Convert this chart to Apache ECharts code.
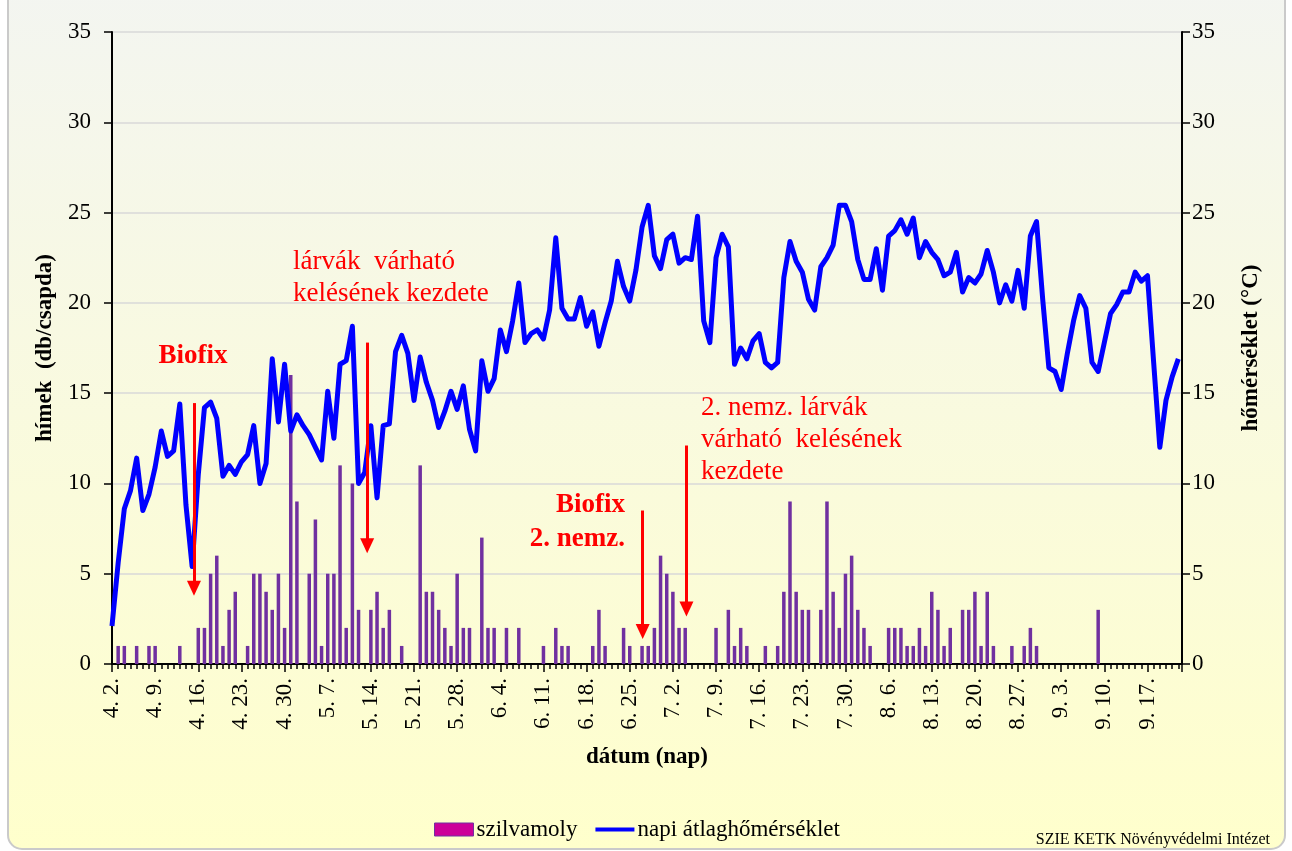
<!DOCTYPE html>
<html>
<head>
<meta charset="utf-8">
<title>szilvamoly</title>
<script src="https://cdn.jsdelivr.net/npm/echarts/dist/echarts.min.js"></script>
<style>
  html, body { margin: 0; padding: 0; background: #fff; }
  #chart { width: 1292px; height: 851px; }
</style>
</head>
<body>
<div id="chart"></div>
<script>
// weekly tick labels, day 0 = 4.2.
let tickLabels = ['4. 2.', '4. 9.', '4. 16.', '4. 23.', '4. 30.', '5. 7.', '5. 14.', '5. 21.', '5. 28.',
  '6. 4.', '6. 11.', '6. 18.', '6. 25.', '7. 2.', '7. 9.', '7. 16.', '7. 23.', '7. 30.',
  '8. 6.', '8. 13.', '8. 20.', '8. 27.', '9. 3.', '9. 10.', '9. 17.'];

// szilvamoly catch per day (one row = one week)
let mothCounts = [
  0, 1, 1, 0, 1, 0, 1,
  1, 0, 0, 0, 1, 0, 0,
  2, 2, 5, 6, 1, 3, 4,
  0, 1, 5, 5, 4, 3, 5,
  2, 16, 9, 0, 5, 8, 1,
  5, 5, 11, 2, 10, 3, 0,
  3, 4, 2, 3, 0, 1, 0,
  0, 11, 4, 4, 3, 2, 1,
  5, 2, 2, 0, 7, 2, 2,
  0, 2, 0, 2, 0, 0, 0,
  1, 0, 2, 1, 1, 0, 0,
  0, 1, 3, 1, 0, 0, 2,
  1, 0, 1, 1, 2, 6, 5,
  4, 2, 2, 0, 0, 0, 0,
  2, 0, 3, 1, 2, 1, 0,
  0, 1, 0, 1, 4, 9, 4,
  3, 3, 0, 3, 9, 4, 2,
  5, 6, 3, 2, 1, 0, 0,
  2, 2, 2, 1, 1, 2, 1,
  4, 3, 1, 2, 0, 3, 3,
  4, 1, 4, 1, 0, 0, 1,
  0, 1, 2, 1, 0, 0, 0,
  0, 0, 0, 0, 0, 0, 3,
  0, 0, 0, 0, 0, 0, 0,
  0, 0, 0, 0
];

// napi átlaghőmérséklet (°C)
let dailyTemp = [
  2.1, 5.6, 8.6, 9.6, 11.4, 8.5, 9.4,
  10.9, 12.9, 11.5, 11.8, 14.4, 8.8, 5.4,
  10.5, 14.2, 14.5, 13.6, 10.4, 11.0, 10.5,
  11.2, 11.6, 13.2, 10.0, 11.1, 16.9, 13.4,
  16.6, 12.9, 13.8, 13.2, 12.7, 12.0, 11.3,
  15.1, 12.5, 16.6, 16.8, 18.7, 10.0, 10.6,
  13.2, 9.2, 13.2, 13.3, 17.3, 18.2, 17.2,
  14.6, 17.0, 15.6, 14.6, 13.1, 14.0, 15.1,
  14.1, 15.4, 13.0, 11.8, 16.8, 15.1, 15.8,
  18.5, 17.3, 19.0, 21.1, 17.8, 18.3, 18.5,
  18.0, 19.6, 23.6, 19.7, 19.1, 19.1, 20.3,
  18.7, 19.5, 17.6, 18.9, 20.1, 22.3, 20.9,
  20.1, 21.8, 24.2, 25.4, 22.6, 21.9, 23.5,
  23.8, 22.2, 22.5, 22.4, 24.8, 19.0, 17.8,
  22.5, 23.8, 23.1, 16.6, 17.5, 16.9, 17.9,
  18.3, 16.7, 16.4, 16.7, 21.4, 23.4, 22.3,
  21.7, 20.2, 19.6, 22.0, 22.5, 23.2, 25.4,
  25.4, 24.5, 22.4, 21.3, 21.3, 23.0, 20.7,
  23.7, 24.0, 24.6, 23.8, 24.7, 22.5, 23.4,
  22.8, 22.4, 21.5, 21.7, 22.8, 20.6, 21.4,
  21.1, 21.6, 22.9, 21.7, 20.0, 21.0, 20.1,
  21.8, 19.7, 23.7, 24.5, 20.2, 16.4, 16.2,
  15.2, 17.2, 19.0, 20.4, 19.7, 16.7, 16.2,
  17.8, 19.4, 19.9, 20.6, 20.6, 21.7, 21.2,
  21.5, 16.7, 12.0, 14.6, 15.9, 16.9
];

// arrows: day, top value, head value (left axis)
let arrowMarks = [
  { day: 13.3, from: 14.45, to: 4.2 },
  { day: 41.4, from: 17.8, to: 6.55 },
  { day: 86.1, from: 8.5, to: 1.8 },
  { day: 93.2, from: 12.1, to: 3.05 }
];

let serif = '"Liberation Serif", "Times New Roman", serif';

let myChart = echarts.init(document.getElementById('chart'));

let option = {
  animation: false,
  backgroundColor: '#ffffff',
  textStyle: { fontFamily: serif, color: '#000' },
  grid: {
    left: 112,
    right: 110,
    top: 32,
    bottom: 187,
    outerBoundsMode: 'none'
  },
  legend: {
    left: 429,
    top: 813,
    itemWidth: 39,
    itemHeight: 13,
    itemGap: 18,
    textStyle: { fontFamily: serif, fontSize: 23, color: '#000', padding: [0, 0, 0, -2] },
    data: [
      { name: 'szilvamoly', icon: 'rect', itemStyle: { color: '#cc0099', borderColor: '#7030a0', borderWidth: 1 } },
      { name: 'napi átlaghőmérséklet', icon: 'path://M0,0 H40 V4 H0 Z', itemStyle: { color: '#0000ff', borderWidth: 0 } }
    ]
  },
  xAxis: {
    type: 'value',
    min: 0,
    max: 173.6,
    interval: 7,
    name: 'dátum (nap)',
    nameLocation: 'middle',
    nameGap: 82,
    nameTextStyle: { fontFamily: serif, fontSize: 23, fontWeight: 'bold', color: '#000' },
    axisLine: { show: true, onZero: false, lineStyle: { color: '#000', width: 2 } },
    axisTick: { show: true, length: 8, lineStyle: { color: '#000', width: 1.5 } },
    minorTick: { show: true, splitNumber: 7, length: 5, lineStyle: { color: '#000', width: 1.5 } },
    splitLine: { show: false },
    minorSplitLine: { show: false },
    axisLabel: {
      rotate: 90,
      margin: 14,
      fontFamily: serif,
      fontSize: 23,
      color: '#000',
      formatter: function (v) {
        let k = Math.round(v);
        if (Math.abs(v - k) > 0.01 || k % 7 !== 0 || k / 7 >= tickLabels.length) return '';
        return tickLabels[k / 7];
      }
    }
  },
  yAxis: [
    {
      type: 'value',
      position: 'left',
      min: 0,
      max: 35,
      interval: 5,
      name: 'hímek  (db/csapda)',
      nameLocation: 'middle',
      nameRotate: 90,
      nameGap: 55,
      nameTextStyle: { fontFamily: serif, fontSize: 23, fontWeight: 'bold', color: '#000' },
      axisLine: { show: true, lineStyle: { color: '#000', width: 2 } },
      axisTick: { show: true, length: 8, lineStyle: { color: '#000', width: 1.5 } },
      axisLabel: { margin: 21, fontFamily: serif, fontSize: 23, color: '#000' },
      splitLine: { show: true, lineStyle: { color: '#d9d9d9', width: 1.5 } }
    },
    {
      type: 'value',
      position: 'right',
      min: 0,
      max: 35,
      interval: 5,
      name: 'hőmérséklet (°C)',
      nameLocation: 'middle',
      nameRotate: 90,
      nameGap: 58,
      nameTextStyle: { fontFamily: serif, fontSize: 23, fontWeight: 'bold', color: '#000' },
      axisLine: { show: true, lineStyle: { color: '#000', width: 2 } },
      axisTick: { show: true, length: 8, lineStyle: { color: '#000', width: 1.5 } },
      axisLabel: { margin: 10, fontFamily: serif, fontSize: 23, color: '#000' },
      splitLine: { show: false }
    }
  ],
  series: [
    {
      name: 'szilvamoly',
      type: 'bar',
      yAxisIndex: 0,
      barWidth: 3.5,
      itemStyle: { color: '#7030a0' },
      data: mothCounts.map((v, i) => [i, v]),
      z: 2,
      markLine: {
        silent: true,
        symbol: ['none', 'triangle'],
        symbolSize: [14, 15],
        label: { show: false },
        lineStyle: { color: '#ff0000', width: 3, type: 'solid', opacity: 1 },
        emphasis: { disabled: true },
        data: arrowMarks.map(a => [{ coord: [a.day, a.from] }, { coord: [a.day, a.to] }])
      }
    },
    {
      name: 'napi átlaghőmérséklet',
      type: 'line',
      yAxisIndex: 1,
      symbol: 'none',
      lineStyle: { color: '#0000ff', width: 5, join: 'round' },
      itemStyle: { color: '#0000ff' },
      data: dailyTemp.map((v, i) => [i, v]),
      z: 3
    }
  ],
  graphic: [
    {
      type: 'rect',
      z: -100,
      silent: true,
      shape: { x: 8, y: -20, width: 1277, height: 869, r: 14 },
      style: {
        fill: new echarts.graphic.LinearGradient(0, 0, 0, 1, [
          { offset: 0, color: '#f3f5f1' },
          { offset: 1, color: '#ffffcc' }
        ]),
        stroke: '#cacaca',
        lineWidth: 2
      }
    },
    {
      type: 'text', x: 193, y: 356, z: 50,
      style: { text: 'Biofix', fill: '#ff0000', font: 'bold 27px ' + serif, align: 'center', verticalAlign: 'middle' }
    },
    {
      type: 'text', x: 293, y: 246, z: 50,
      style: { text: 'lárvák  várható\nkelésének kezdete', fill: '#ff0000', font: '27px ' + serif, lineHeight: 32, align: 'left', verticalAlign: 'top' }
    },
    {
      type: 'text', x: 625, y: 488, z: 50,
      style: { text: 'Biofix\n2. nemz.', fill: '#ff0000', font: 'bold 27px ' + serif, lineHeight: 34, align: 'right', verticalAlign: 'top' }
    },
    {
      type: 'text', x: 701, y: 392, z: 50,
      style: { text: '2. nemz. lárvák\nvárható  kelésének\nkezdete', fill: '#ff0000', font: '27px ' + serif, lineHeight: 32, align: 'left', verticalAlign: 'top' }
    },
    {
      type: 'text', x: 1270, y: 840, z: 50,
      style: { text: 'SZIE KETK Növényvédelmi Intézet', fill: '#000', font: '16px ' + serif, align: 'right', verticalAlign: 'middle' }
    }
  ]
};

myChart.setOption(option);
</script>
</body>
</html>
